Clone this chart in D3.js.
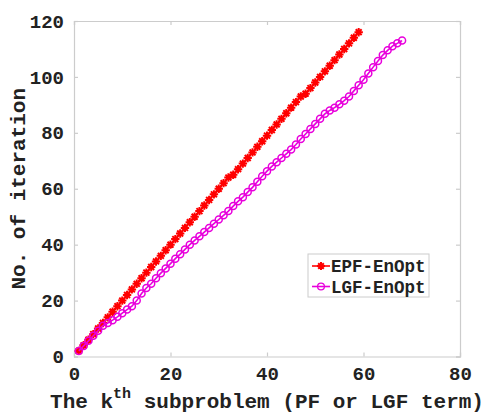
<!DOCTYPE html>
<html>
<head>
<meta charset="utf-8">
<script src="https://cdn.jsdelivr.net/npm/d3@7"></script>
<style>
  html, body { margin: 0; padding: 0; background: #fff; }
  svg { display: block; }
  text { font-family: "Liberation Mono", "DejaVu Sans Mono", monospace; font-weight: bold; fill: #222; }
</style>
</head>
<body>
<svg id="chart" width="485" height="414"></svg>
<script>
// Subproblem index k for each method
const kEPF = [1,2,3,4,5,6,7,8,9,10,11,12,13,14,15,16,17,18,19,20,21,22,23,24,25,26,27,28,29,30,
  31,32,33,34,35,36,37,38,39,40,41,42,43,44,45,46,47,48,49,50,51,52,53,54,55,56,57,58,59];
const kLGF = [1,2,3,4,5,6,7,8,9,10,11,12,13,14,15,16,17,18,19,20,21,22,23,24,25,26,27,28,29,30,
  31,32,33,34,35,36,37,38,39,40,41,42,43,44,45,46,47,48,49,50,51,52,53,54,55,56,57,58,59,60,
  61,62,63,64,65,66,67,68];

// Cumulative number of iterations
const iterEPF = [2,4,6,8,10,12,14,16,18,20,22,24,26,28,30,32,34,36,38,40,42,44,46,48,50,52,54,56,58,60,
  62,64,65,67,69,71,73,75,77,79,81,83,85,87,89,91,93,94,96,98,100,102,104,106,108,110,112,114,116];
const iterLGF = [2,3.8,5.6,7.4,9.2,11,12,13,14.2,15.5,16.8,18,20,22.5,24.5,26,28,29.8,31.5,33.2,
  35,36.6,38.3,40,41.5,43,44.5,46,47.5,49,50.5,52,53.8,55.5,57,58.8,60.5,62.5,64.5,66.3,
  68,69.5,71,72.5,74,75.8,77.8,79.6,81.4,83.2,85,86.8,88,89,90.2,91.5,93,95,97,99,
  101.2,103.5,105.7,107.8,109.5,111,112,113];

const xTicks = [0, 20, 40, 60, 80];
const yTicks = [0, 20, 40, 60, 80, 100, 120];
const seriesNames = ["EPF-EnOpt", "LGF-EnOpt"];

const svg = d3.select("#chart");
const plotL = 74, plotR = 460, plotT = 21, plotB = 356.5;

const x = d3.scaleLinear().domain([0, 80]).range([plotL, plotR]);
const y = d3.scaleLinear().domain([0, 120]).range([plotB, plotT]);

const boxColor = "#cccccc";

// Axes: ticks pointing inward on all four sides
const gx = svg.append("g").attr("transform", `translate(0,${plotB})`)
  .call(d3.axisBottom(x).tickValues(xTicks).tickSize(-4).tickPadding(10));
const gxTop = svg.append("g").attr("transform", `translate(0,${plotT})`)
  .call(d3.axisTop(x).tickValues(xTicks).tickSize(-4).tickFormat(""));
const gy = svg.append("g").attr("transform", `translate(${plotL},0)`)
  .call(d3.axisLeft(y).tickValues(yTicks).tickSize(-4).tickPadding(10));
const gyRight = svg.append("g").attr("transform", `translate(${plotR},0)`)
  .call(d3.axisRight(y).tickValues(yTicks).tickSize(-4).tickFormat(""));

[gx, gxTop, gy, gyRight].forEach(g => {
  g.select(".domain").attr("stroke", boxColor).attr("stroke-width", 1.2);
  g.selectAll(".tick line").attr("stroke", boxColor).attr("stroke-width", 1.2);
  g.selectAll(".tick text").style("font-size", "19px").attr("fill", "#222");
});
gx.selectAll(".tick text").attr("dy", "0.71em");

// Series lines
const line = d3.line().x(d => x(d[0])).y(d => y(d[1]));
const epf = kEPF.map((k, i) => [k, iterEPF[i]]);
const lgf = kLGF.map((k, i) => [k, iterLGF[i]]);
const red = "#ff0000", mag = "#e800dc";

// Eight-armed asterisk marker
function asterisk(g, cx, cy, r, color) {
  const d = r * 0.7071;
  g.append("path")
    .attr("d", `M${cx - r},${cy}H${cx + r}M${cx},${cy - r}V${cy + r}` +
               `M${cx - d},${cy - d}L${cx + d},${cy + d}M${cx - d},${cy + d}L${cx + d},${cy - d}`)
    .attr("stroke", color).attr("stroke-width", 2).attr("fill", "none");
}

const gEPF = svg.append("g");
gEPF.append("path").datum(epf).attr("d", line)
  .attr("fill", "none").attr("stroke", red).attr("stroke-width", 1.6);
epf.forEach(p => asterisk(gEPF, x(p[0]), y(p[1]), 4.2, red));

const gLGF = svg.append("g");
gLGF.append("path").datum(lgf).attr("d", line)
  .attr("fill", "none").attr("stroke", mag).attr("stroke-width", 1.6);
gLGF.selectAll("circle").data(lgf).join("circle")
  .attr("cx", d => x(d[0])).attr("cy", d => y(d[1])).attr("r", 3.5)
  .attr("fill", "none").attr("stroke", mag).attr("stroke-width", 1.5);

// Legend
const lg = svg.append("g");
lg.append("rect").attr("x", 308).attr("y", 254).attr("width", 121).attr("height", 43)
  .attr("fill", "#fff").attr("stroke", boxColor).attr("stroke-width", 1);
const rows = [266, 286.5];
lg.append("line").attr("x1", 312).attr("x2", 330).attr("y1", rows[0]).attr("y2", rows[0])
  .attr("stroke", red).attr("stroke-width", 1.6);
asterisk(lg, 321, rows[0], 4, red);
lg.append("line").attr("x1", 312).attr("x2", 330).attr("y1", rows[1]).attr("y2", rows[1])
  .attr("stroke", mag).attr("stroke-width", 1.6);
lg.append("circle").attr("cx", 321).attr("cy", rows[1]).attr("r", 3.4)
  .attr("fill", "none").attr("stroke", mag).attr("stroke-width", 1.3);
seriesNames.forEach((name, i) => {
  lg.append("text").attr("x", 331).attr("y", rows[i]).attr("dy", "0.35em")
    .style("font-size", "17.5px").text(name);
});

// Axis labels
const xl = svg.append("text").attr("x", (plotL + plotR) / 2).attr("y", 408)
  .attr("text-anchor", "middle").style("font-size", "21px");
xl.append("tspan").text("The k");
xl.append("tspan").attr("dy", -10).style("font-size", "15px").text("th");
xl.append("tspan").attr("dy", 10).text(" subproblem (PF or LGF term)");

svg.append("text").attr("transform", `translate(25,${(plotT + plotB) / 2}) rotate(-90)`)
  .attr("text-anchor", "middle").style("font-size", "21px").text("No. of iteration");
</script>
</body>
</html>
